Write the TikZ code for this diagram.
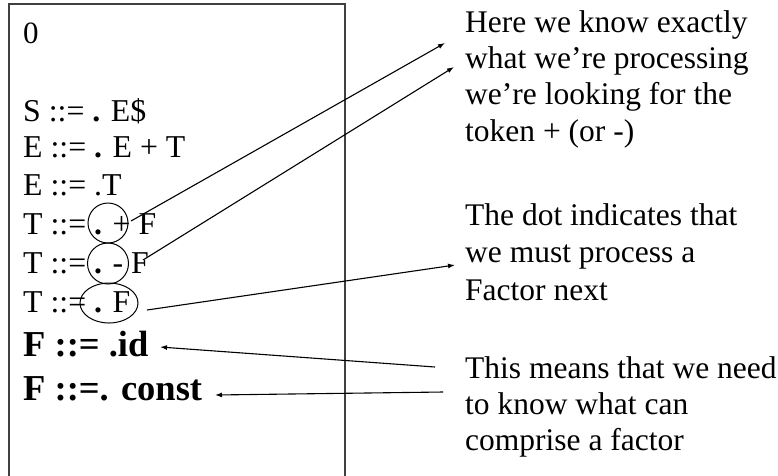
\documentclass[tikz,border=0pt]{standalone}
\usepackage{fontspec}
\setmainfont{Liberation Serif}
\usetikzlibrary{shapes.geometric,arrows.meta}
\tikzset{
  rule/.style={anchor=base west, inner sep=0pt, font=\fontsize{31.8}{36}\selectfont},
  boldrule/.style={anchor=base west, inner sep=0pt, font=\fontsize{36.5}{40}\selectfont\bfseries},
  note/.style={anchor=base west, inner sep=0pt, font=\fontsize{31.5}{36}\selectfont},
  ring/.style={ellipse, draw, line width=1pt, inner sep=0pt},
  pointer/.style={line width=1.1pt, -{Latex[length=7pt,width=5pt]}},
  frame/.style={line width=1.5pt, draw=black!75}
}
\begin{document}
\begin{tikzpicture}[x=1pt,y=-1pt]
\useasboundingbox (0,0) rectangle (778,475);
% state frame (open at the bottom)
\draw[frame] (9,476) -- (9,4) -- (345,4) -- (345,476);

% state number and items
\node[rule, font=\fontsize{31}{34}\selectfont] (num) at (23,43) {0};
\node[rule] (i1) at (23,121) {S ::= {\bfseries .} E\$};
\node[rule] (i2) at (23,157) {E ::= {\bfseries .} E + T};
\node[rule] (i3) at (23,195) {E ::= .T};
\node[rule] (i4) at (23,234) {T ::= {\bfseries .} + F};
\node[rule] (i5) at (23,273) {T ::= {\bfseries .} - F};
\node[rule] (i6) at (23,312) {T ::= {\bfseries .} F};
\node[boldrule] (i7) at (23,356) {F ::= .id};
\node[boldrule] (i8) at (23,400) {F ::=. const};

% circled positions of the dot
\node[ring, minimum width=40pt, minimum height=40pt] (c1) at (108,223) {};
\node[ring, minimum width=41pt, minimum height=41pt] (c2) at (108,263.5) {};
\node[ring, minimum width=58pt, minimum height=40pt] (c3) at (109,303) {};

% explanatory notes
\node[note] (a1) at (465,32) {Here we know exactly};
\node[note] (a2) at (465,68) {what we’re processing};
\node[note] (a3) at (465,104.5) {we’re looking for the};
\node[note] (a4) at (465,141) {token + (or -)};
\node[note] (b1) at (465,225) {The dot indicates that};
\node[note] (b2) at (465,262.5) {we must process a};
\node[note] (b3) at (465,300) {Factor next};
\node[note] (d1) at (465,378) {This means that we need};
\node[note] (d2) at (465,414) {to know what can};
\node[note] (d3) at (465,450) {comprise a factor};

% connector end points
\coordinate (p1s) at (131,221);
\coordinate (p1e) at (445,43);
\coordinate (p2s) at (143,260);
\coordinate (p2e) at (454,67);
\coordinate (p3s) at (147,310);
\coordinate (p3e) at (455,265);
\coordinate (p4s) at (435,367);
\coordinate (p4e) at (160,347);
\coordinate (p5s) at (443,392);
\coordinate (p5e) at (215,395);

\draw[pointer] (p1s) -- (p1e);
\draw[pointer] (p2s) -- (p2e);
\draw[pointer] (p3s) -- (p3e);
\draw[pointer] (p4s) -- (p4e);
\draw[pointer] (p5s) -- (p5e);
\end{tikzpicture}
\end{document}
